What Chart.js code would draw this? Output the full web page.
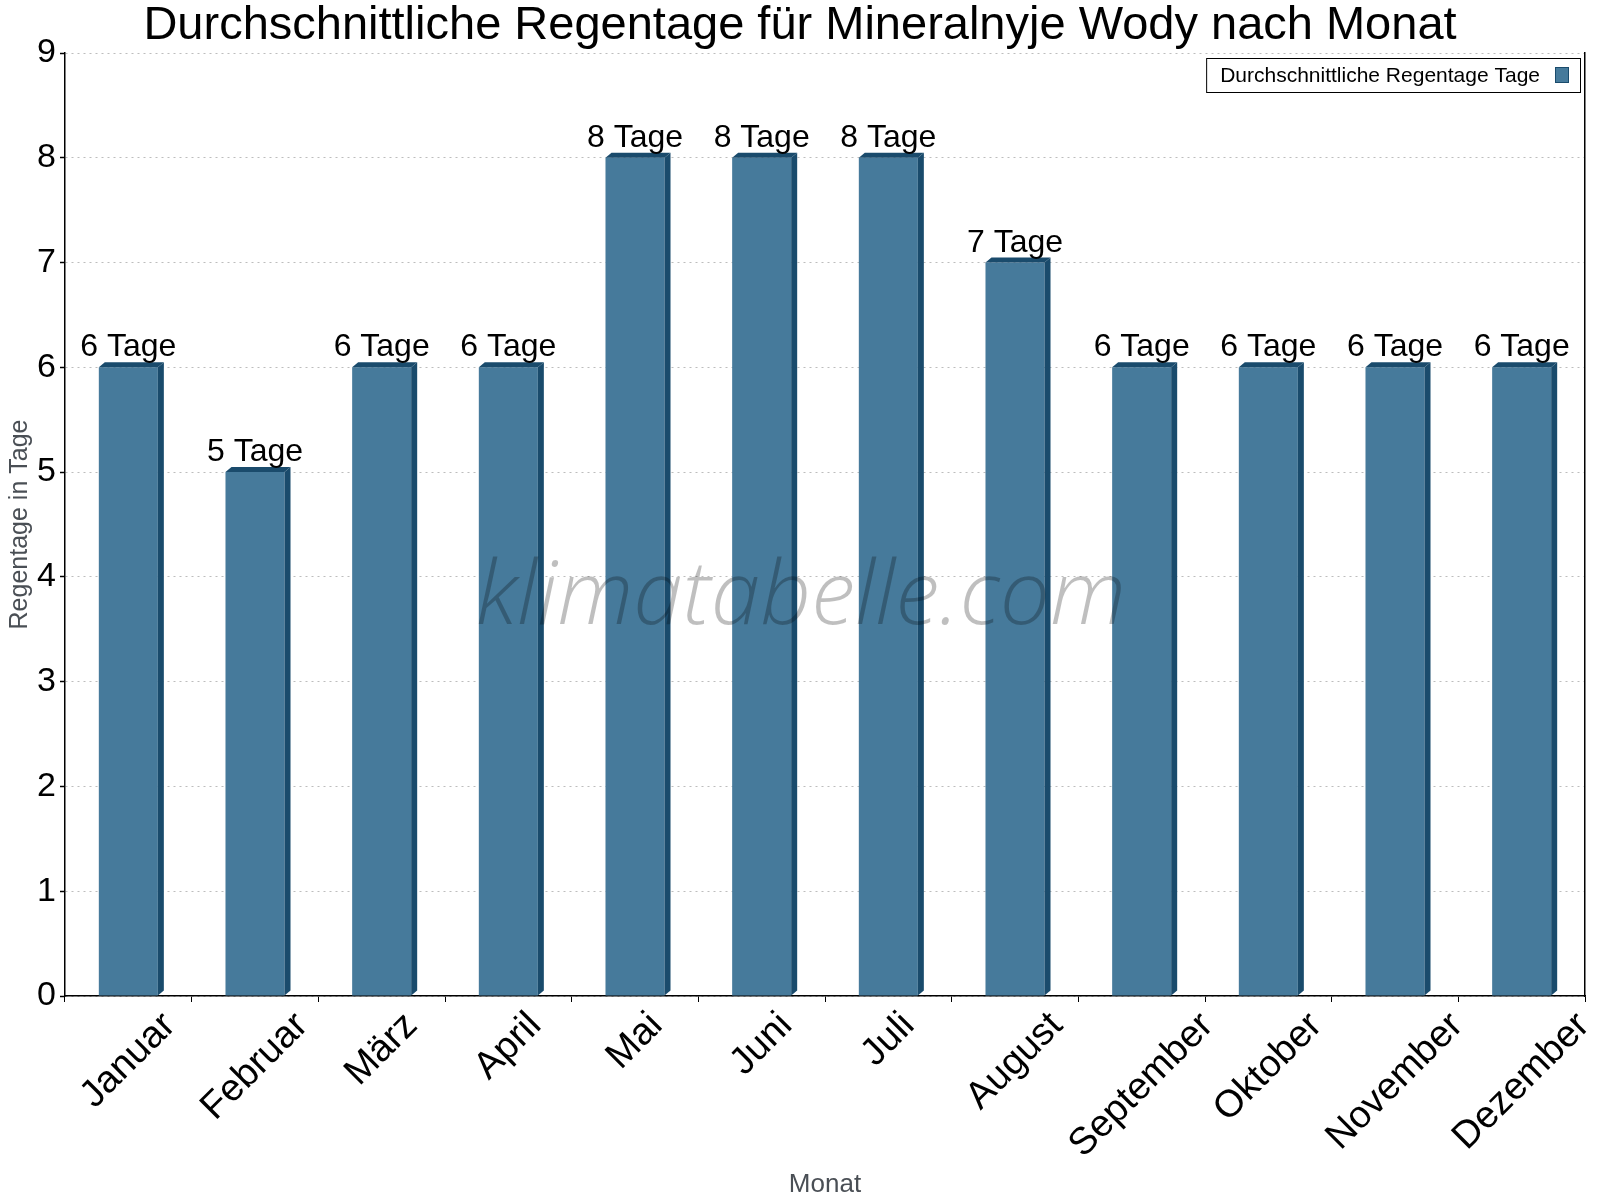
<!DOCTYPE html>
<html lang="de">
<head>
<meta charset="utf-8">
<title>Regentage Mineralnyje Wody</title>
<script src="https://cdn.jsdelivr.net/npm/chart.js@4.4.1/dist/chart.umd.min.js"></script>
<style>
    html, body { margin: 0; padding: 0; background: #fff; }
    #wrap { width: 1600px; height: 1200px; }
</style>
</head>
<body>
<div id="wrap"><canvas id="rainChart" width="1600" height="1200"></canvas></div>
<script>
// Durchschnittliche Regentage pro Monat
const months = ['Januar', 'Februar', 'März', 'April', 'Mai', 'Juni', 'Juli', 'August', 'September', 'Oktober', 'November', 'Dezember'];
const rainDays = [6, 5, 6, 6, 8, 8, 8, 7, 6, 6, 6, 6];
const seriesLabel = 'Durchschnittliche Regentage Tage';
const unit = 'Tage';

const FONT = '"Liberation Sans", Arial, sans-serif';
const frontColor = '#467a9b';
const sideColor = '#1a4b6c';

/**
 * 3D faces, value labels, watermark, rotated month labels and the boxed legend
 */
const extrasPlugin = {
    id: 'extras',
    afterDatasetsDraw(chart) {
        const ctx = chart.ctx;
        const meta = chart.getDatasetMeta(0);
        const dx = 6, dy = 5;

        ctx.save();
        ctx.fillStyle = sideColor;
        meta.data.forEach(bar => {
            const { x, y, base, width } = bar.getProps(['x', 'y', 'base', 'width'], true);
            const l = x - width / 2, r = x + width / 2;
            // top face
            ctx.beginPath();
            ctx.moveTo(l, y);
            ctx.lineTo(l + dx, y - dy);
            ctx.lineTo(r + dx, y - dy);
            ctx.lineTo(r, y);
            ctx.closePath();
            ctx.fill();
            // side face
            ctx.beginPath();
            ctx.moveTo(r, y);
            ctx.lineTo(r + dx, y - dy);
            ctx.lineTo(r + dx, base - dy);
            ctx.lineTo(r, base);
            ctx.closePath();
            ctx.fill();
        });

        // watermark
        ctx.font = 'italic 300 89px "Open Sans", "Liberation Sans", sans-serif';
        ctx.fillStyle = 'rgba(0, 0, 0, 0.25)';
        ctx.textAlign = 'center';
        ctx.textBaseline = 'alphabetic';
        ctx.fillText('klimatabelle.com', 801, 624);

        // value labels
        ctx.font = '32px ' + FONT;
        ctx.fillStyle = '#000';
        meta.data.forEach((bar, i) => {
            ctx.fillText(`${rainDays[i]} ${unit}`, bar.x, bar.y - 11);
        });
        ctx.restore();
    },
    afterDraw(chart) {
        const ctx = chart.ctx;
        const xScale = chart.scales.x;
        const area = chart.chartArea;

        // month labels, rotated 45 degrees, hanging below the axis
        ctx.save();
        const size = 38;
        ctx.font = size + 'px ' + FONT;
        ctx.fillStyle = '#000';
        ctx.textAlign = 'center';
        ctx.textBaseline = 'middle';
        months.forEach((m, i) => {
            const w = ctx.measureText(m).width;
            const cx = xScale.getPixelForValue(i);
            const cy = area.bottom + 14 + (w + 0.72 * size) / (2 * Math.SQRT2);
            ctx.save();
            ctx.translate(cx, cy);
            ctx.rotate(-Math.PI / 4);
            ctx.fillText(m, 0, 0);
            ctx.restore();
        });

        // legend box in the top right corner of the plot
        const ds = chart.data.datasets[0];
        ctx.font = '21px ' + FONT;
        const tw = ctx.measureText(ds.label).width;
        const boxR = area.right - 5, boxT = area.top + 5, boxH = 34;
        const boxW = 14 + tw + 15 + 14 + 11;
        const boxL = boxR - boxW;
        ctx.fillStyle = '#fff';
        ctx.fillRect(boxL, boxT, boxW, boxH);
        ctx.strokeStyle = '#000';
        ctx.lineWidth = 1;
        ctx.strokeRect(boxL + 0.5, boxT + 0.5, boxW, boxH);
        ctx.fillStyle = '#000';
        ctx.textAlign = 'left';
        ctx.textBaseline = 'middle';
        ctx.fillText(ds.label, boxL + 14, boxT + boxH / 2 + 1);
        const sx = boxL + 14 + tw + 15;
        ctx.fillStyle = ds.backgroundColor;
        ctx.fillRect(sx, boxT + 9, 14, 16);
        ctx.strokeStyle = sideColor;
        ctx.strokeRect(sx + 0.5, boxT + 9.5, 13, 15);
        ctx.restore();
    }
};

function createRainDaysChart(canvasId) {
    const ctx = document.getElementById(canvasId);

    return new Chart(ctx, {
        type: 'bar',
        plugins: [extrasPlugin],
        data: {
            labels: months,
            datasets: [{
                label: seriesLabel,
                data: rainDays,
                backgroundColor: frontColor,
                borderWidth: 0,
                barPercentage: 0.466,
                categoryPercentage: 1,
                yAxisID: 'y'
            }]
        },
        options: {
            responsive: false,
            devicePixelRatio: 1,
            animation: false,
            layout: { padding: 0 },
            plugins: {
                legend: { display: false },
                tooltip: { enabled: false },
                title: {
                    display: true,
                    text: 'Durchschnittliche Regentage für Mineralnyje Wody nach Monat',
                    color: '#000',
                    font: { family: FONT, size: 47, weight: 'normal', lineHeight: 1 },
                    padding: { top: 3, bottom: 3 }
                }
            },
            scales: {
                x: {
                    offset: true,
                    grid: {
                        display: true,
                        drawOnChartArea: false,
                        drawTicks: true,
                        tickLength: 6,
                        tickColor: '#000',
                        offset: true
                    },
                    border: { display: true, color: '#000', width: 1.5 },
                    ticks: { display: false },
                    title: {
                        display: true,
                        text: 'Monat',
                        color: '#4a4f55',
                        font: { family: FONT, size: 26, lineHeight: 1.2 },
                        padding: { top: 0, bottom: 0 }
                    },
                    afterFit(scale) { scale.height = 204; }
                },
                y: {
                    position: 'left',
                    min: 0,
                    max: 9,
                    ticks: {
                        stepSize: 1,
                        color: '#000',
                        padding: 4,
                        font: { family: FONT, size: 34 }
                    },
                    grid: {
                        color: '#bdbdbd',
                        lineWidth: 1,
                        tickLength: 5,
                        tickColor: '#000',
                        tickWidth: 1.5
                    },
                    border: { display: true, color: '#000', width: 1.5, dash: [2, 4] },
                    title: {
                        display: true,
                        text: 'Regentage in Tage',
                        color: '#4a4f55',
                        font: { family: FONT, size: 25, lineHeight: 1.2 },
                        padding: { top: 5, bottom: 0 }
                    },
                    afterFit(scale) { scale.width = 65; }
                },
                y2: {
                    type: 'linear',
                    position: 'right',
                    grid: { display: false },
                    ticks: { display: false },
                    border: { display: true, color: '#000', width: 1.5 },
                    afterFit(scale) { scale.width = 15; }
                }
            }
        }
    });
}

window.rainChart = createRainDaysChart('rainChart');
</script>
</body>
</html>
